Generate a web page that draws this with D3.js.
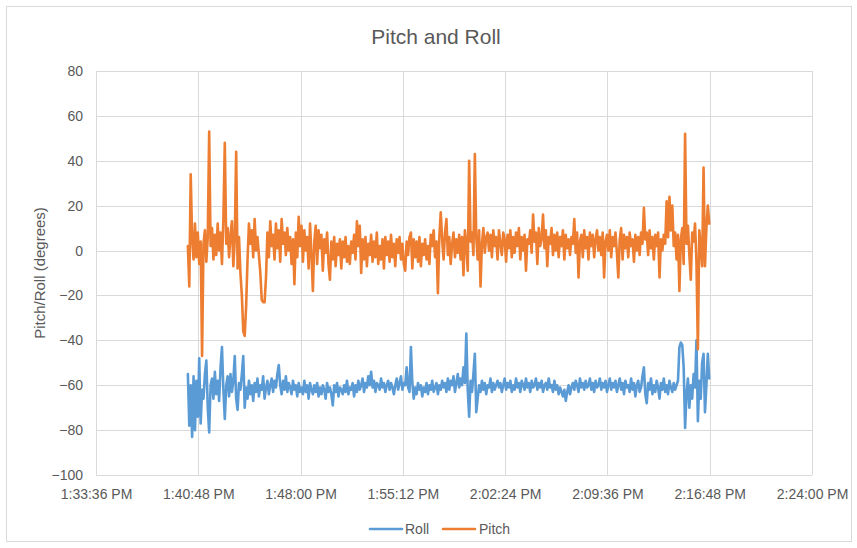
<!DOCTYPE html>
<html>
<head>
<meta charset="utf-8">
<script src="https://cdn.jsdelivr.net/npm/d3@7"></script>
<style>
  html, body { margin: 0; padding: 0; background: #fff; }
  svg { display: block; }
  text { font-family: "Liberation Sans", Arial, sans-serif; fill: #595959; }
</style>
</head>
<body>
<svg id="chart" width="857" height="548"></svg>
<script>
// ---------- data ----------
const chartTitle = "Pitch and Roll";
const yAxisTitle = "Pitch/Roll (degrees)";
const seriesNames = ["Roll", "Pitch"];
const seriesColors = ["#5b9bd5", "#ed7d31"];
const xTickLabels = ["1:33:36 PM", "1:40:48 PM", "1:48:00 PM", "1:55:12 PM", "2:02:24 PM", "2:09:36 PM", "2:16:48 PM", "2:24:00 PM"];
const yTicks = [-100, -80, -60, -40, -20, 0, 20, 40, 60, 80];
const sampleStart = "13:40:04";   // first sample time
const sampleStepSeconds = 6;      // logging interval

const pitch = [
  2, -16, 34, 5, -4, 12, -3, 8, -6, 4,
  -47, 3, 9, -5, 6, 53, 2, 10, -4, 7,
  -2, 12, 0, 8, -6, 14, 48, 3, 10, -3,
  7, 13, -7, 5, 44, -8, 6, -10, -20, -36,
  -38, -25, -4, 12, 3, 9, -3, 14, 0, 6,
  -2, -10, -22, -23, -23, -12, 8, -3, 13, 2,
  7, -4, 12, 1, 9, -5, 14, 3, 8, -2,
  10, 0, 6, -6, 5, -15, 8, -3, 15, 2,
  11, -5, 9, 0, 6, -8, 12, -2, -18, 4,
  11, -6, 9, 1, 7, -9, 5, -1, 8, -6,
  -13, 4, -4, 6, -7, 3, -2, 5, -8, 4,
  -3, 6, -5, 2, -6, 4, -1, 7, -4, 13,
  2, 11, -10, 5, -4, 6, -7, 3, -2, 7,
  -5, 4, -3, 8, -6, 2, -4, 5, -8, 6,
  -2, 4, -5, 7, -3, 3, -7, 5, -1, 6,
  -4, 3, -6, -9, 4, -2, 6, 8, -8, 5,
  -3, 4, -5, 6, -7, 3, -2, 5, -4, 2,
  -6, 7, 2, 9, -3, 4, -19, 6, 17, 5,
  -4, 8, 14, -2, 6, -6, 3, 8, -3, 5,
  -1, 7, -4, 6, -11, 9, 2, -9, 40, 4,
  8, -2, 43, 6, -4, 9, -16, 3, 10, -1,
  6, 8, 0, 7, -3, 9, 2, 6, -4, 9,
  3, -2, 8, 5, -5, 7, 1, 9, -3, 6,
  -1, 8, 2, 10, -4, 6, 0, 7, -9, 5,
  3, 9, -1, 16, 4, 8, -6, 10, 2, 5,
  16, 1, 9, -7, 6, 3, 10, -2, 7, 0,
  8, -3, 6, 2, 9, -4, 7, 1, 5, -2,
  6, 3, 14, -1, 8, -12, 4, 7, -3, 9,
  1, 6, -4, 8, 2, 7, -3, 5, 9, 0,
  6, -2, 8, -12, 4, 7, 0, 9, -3, 6,
  2, 8, -1, -12, 5, 10, -4, 7, 1, 6,
  -3, 8, 2, 5, -5, 7, 0, 6, -2, 8,
  3, 19, 5, 8, -2, 9, 1, 6, -4, 7,
  2, 8, -12, 5, 0, 7, 3, 22, 6, 24,
  9, 20, 2, 8, -4, 7, -18, 5, 10, -6,
  52, 3, 11, -2, -13, 8, 4, 12, -5, -44,
  9, 2, -7, 37, -7, 10, 20, 12
];

const roll = [
  -55, -78, -60, -83, -56, -80, -58, -74, -48, -77,
  -62, -66, -55, -49, -70, -81, -60, -57, -66, -54,
  -64, -58, -67, -52, -43, -62, -75, -60, -56, -65,
  -55, -63, -58, -47, -66, -71, -59, -62, -55, -47,
  -70, -61, -66, -58, -64, -60, -67, -59, -63, -57,
  -65, -60, -62, -56, -66, -61, -58, -64, -60, -57,
  -63, -58, -61, -55, -51, -60, -64, -58, -62, -56,
  -63, -59, -61, -64, -58, -62, -60, -65, -59, -63,
  -61, -64, -58, -63, -60, -66, -59, -62, -64, -60,
  -63, -59, -65, -61, -64, -60, -62, -66, -59, -63,
  -61, -64, -69, -60, -63, -59, -65, -61, -62, -64,
  -60, -63, -58, -64, -61, -62, -59, -65, -60, -63,
  -58, -62, -60, -57, -63, -59, -61, -56, -60, -54,
  -61, -58, -63, -59, -60, -62, -57, -61, -59, -63,
  -60, -58, -62, -59, -61, -64, -60, -57, -62, -59,
  -56, -62, -59, -60, -52, -61, -63, -43, -59, -66,
  -61, -64, -59, -62, -60, -65, -61, -63, -59, -64,
  -60, -62, -58, -63, -61, -59, -64, -60, -62, -58,
  -61, -59, -63, -57, -62, -58, -60, -56, -63, -59,
  -55, -61, -57, -60, -52, -59, -37, -62, -74, -58,
  -63, -55, -46, -72, -66, -60, -63, -58, -62, -59,
  -64, -60, -61, -57, -63, -59, -62, -60, -58, -61,
  -59, -63, -60, -57, -62, -59, -61, -58, -63, -60,
  -62, -57, -61, -59, -63, -58, -60, -62, -57, -61,
  -59, -63, -58, -61, -60, -57, -62, -59, -61, -58,
  -63, -60, -59, -62, -57, -61, -60, -63, -58, -62,
  -60, -64, -61, -63, -65, -62, -67, -63, -60, -64,
  -61, -59, -62, -58, -60, -63, -57, -61, -59, -62,
  -58, -61, -60, -57, -62, -59, -63, -58, -61, -60,
  -57, -62, -59, -61, -58, -63, -60, -57, -62, -59,
  -61, -58, -63, -60, -57, -62, -59, -64, -58, -61,
  -60, -63, -57, -62, -59, -65, -60, -58, -63, -61,
  -56, -52, -64, -68, -59, -62, -57, -64, -60, -63,
  -58, -61, -66, -59, -62, -57, -63, -60, -64, -58,
  -61, -63, -59, -62, -60, -58, -43, -41, -42, -52,
  -79, -64, -57, -70, -60, -66, -55, -61, -40, -76,
  -58, -66, -50, -46, -72, -60, -46, -57
];

// ---------- helpers ----------
const parseT = d3.timeParse("%H:%M:%S");
const parseLbl = d3.timeParse("%-I:%M:%S %p");
const t0 = parseT(sampleStart);
const timeAt = i => new Date(t0.getTime() + i * sampleStepSeconds * 1000);
const xTickDates = xTickLabels.map(s => parseLbl(s));

// ---------- layout ----------
const W = 857, H = 548;
const plot = { left: 96, right: 812, top: 71, bottom: 475 };

const svg = d3.select("#chart");
svg.append("rect").attr("x", 0).attr("y", 0).attr("width", W).attr("height", H).attr("fill", "#fff");
svg.append("rect").attr("x", 6.5).attr("y", 6.5).attr("width", 845).attr("height", 535)
  .attr("fill", "none").attr("stroke", "#d9d9d9").attr("stroke-width", 1);

const x = d3.scaleTime()
  .domain([xTickDates[0], xTickDates[xTickDates.length - 1]])
  .range([plot.left, plot.right]);
const y = d3.scaleLinear()
  .domain([d3.min(yTicks), d3.max(yTicks)])
  .range([plot.bottom, plot.top]);

// gridlines
const grid = svg.append("g").attr("shape-rendering", "crispEdges");
grid.selectAll("line.h").data(yTicks).join("line")
  .attr("x1", plot.left).attr("x2", plot.right)
  .attr("y1", d => Math.round(y(d)) + 0.5).attr("y2", d => Math.round(y(d)) + 0.5)
  .attr("stroke", "#d9d9d9").attr("stroke-width", 1);
grid.selectAll("line.v").data(xTickDates).join("line")
  .attr("x1", d => Math.round(x(d)) + 0.5).attr("x2", d => Math.round(x(d)) + 0.5)
  .attr("y1", plot.top).attr("y2", plot.bottom)
  .attr("stroke", "#d9d9d9").attr("stroke-width", 1);

// axes
const fmt = d3.timeFormat("%-I:%M:%S %p");
const xAxis = svg.append("g").attr("transform", `translate(0,${plot.bottom})`)
  .call(d3.axisBottom(x).tickValues(xTickDates).tickFormat(fmt).tickSize(0).tickPadding(14));
xAxis.select(".domain").remove();
xAxis.selectAll("text").attr("font-size", 14).attr("fill", "#595959")
  .attr("font-family", "Liberation Sans, Arial, sans-serif");

const yAxis = svg.append("g").attr("transform", `translate(${plot.left},0)`)
  .call(d3.axisLeft(y).tickValues(yTicks).tickSize(0).tickPadding(13));
yAxis.select(".domain").remove();
yAxis.selectAll("text").attr("font-size", 14).attr("fill", "#595959")
  .attr("font-family", "Liberation Sans, Arial, sans-serif");

// series
const line = d3.line().x((d, i) => x(timeAt(i))).y(d => y(d));
const seriesData = [roll, pitch];
seriesData.forEach((vals, k) => {
  svg.append("path").datum(vals)
    .attr("d", line)
    .attr("fill", "none")
    .attr("stroke", seriesColors[k])
    .attr("stroke-width", 2.6)
    .attr("stroke-linejoin", "round")
    .attr("stroke-linecap", "round");
});

// title
svg.append("text").attr("x", 436).attr("y", 44).attr("text-anchor", "middle")
  .attr("font-size", 21).text(chartTitle);

// y axis title
svg.append("text").attr("transform", `translate(45,${(plot.top + plot.bottom) / 2}) rotate(-90)`)
  .attr("text-anchor", "middle").attr("font-size", 15).text(yAxisTitle);

// legend
const legend = svg.append("g");
const legendItems = [{ x1: 370, tx: 405 }, { x1: 443, tx: 479 }];
seriesNames.forEach((name, k) => {
  legend.append("line").attr("x1", legendItems[k].x1).attr("x2", legendItems[k].x1 + 32)
    .attr("y1", 529).attr("y2", 529)
    .attr("stroke", seriesColors[k]).attr("stroke-width", 2.6).attr("stroke-linecap", "round");
  legend.append("text").attr("x", legendItems[k].tx).attr("y", 534)
    .attr("font-size", 14).text(name);
});
</script>
</body>
</html>
